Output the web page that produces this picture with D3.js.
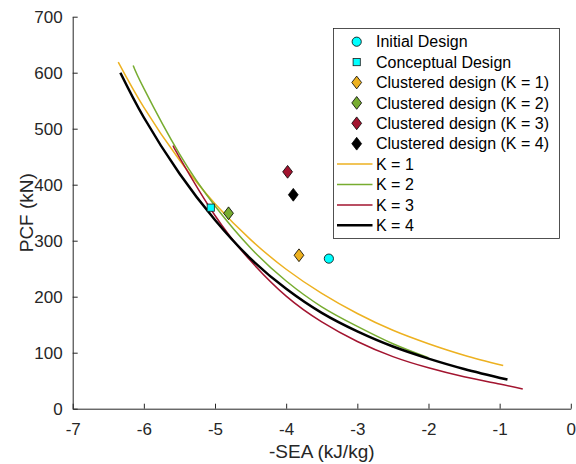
<!DOCTYPE html>
<html lang="en">
<head>
<meta charset="UTF-8">
<title>PCF vs -SEA</title>
<script src="https://d3js.org/d3.v7.min.js"></script>
<style>
    body { margin: 0; background: #fff; }
    svg { display: block; font-family: 'Liberation Sans', Arial, Helvetica, sans-serif; }
    .tick text { font-size: 17px; fill: #262626; }
    .axis path, .axis line { stroke: #262626; }
    .axis-label { font-size: 19px; fill: #262626; }
    .legend text { font-size: 16px; fill: #000; }
</style>
</head>
<body>
<svg width="576" height="464"></svg>
<script>
    // Fitted curves
    const k1X = [-6.36, -6.0, -5.5, -5.0, -4.5, -4.0, -3.5, -3.0, -2.5, -2.0, -1.5, -0.95];
    const k1Y = [619, 538, 444, 366, 302, 249, 206, 170, 140, 116, 95.5, 77];
    const k2X = [-6.15, -6.0, -5.5, -5.0, -4.5, -4.0, -3.5, -3.0, -2.5, -2.0];
    const k2Y = [613, 572, 455, 362, 287, 228, 182, 147, 116, 91];
    const k3X = [-5.58, -5.5, -5.0, -4.5, -4.0, -3.5, -3.0, -2.5, -2.0, -1.5, -1.0, -0.675];
    const k3Y = [468, 449, 345, 264, 201, 155, 120, 93, 73, 57, 44, 35];
    const k4X = [-6.33, -6.0, -5.5, -5.0, -4.5, -4.0, -3.5, -3.0, -2.5, -2.0, -1.5, -0.89];
    const k4Y = [600, 520, 420, 337, 268, 214, 171, 138, 111, 89.5, 71, 52];

    // Design points
    const initialX = -3.4, initialY = 268;
    const conceptualX = -5.06, conceptualY = 359;
    const clusterX = [-3.82, -4.81, -3.98, -3.90];
    const clusterY = [274, 349, 423, 382];

    const curveNames = ["K = 1", "K = 2", "K = 3", "K = 4"];
    const clusterNames = ["Clustered design (K = 1)", "Clustered design (K = 2)",
        "Clustered design (K = 3)", "Clustered design (K = 4)"];
    const colors = ["#EDB120", "#77AC30", "#A2142F", "#000000"];
    const widths = [1.5, 1.5, 1.5, 2.5];

    const xTicks = [-7, -6, -5, -4, -3, -2, -1, 0];
    const yTicks = [0, 100, 200, 300, 400, 500, 600, 700];

    const margin = { top: 16.7, right: 5.2, bottom: 55.3, left: 72.7 };
    const W = 576, H = 464;
    const width = W - margin.left - margin.right;
    const height = H - margin.top - margin.bottom;

    const svg = d3.select("svg");
    const g = svg.append("g").attr("transform", `translate(${margin.left},${margin.top})`);

    const x = d3.scaleLinear().domain([-7, 0]).range([0, width]);
    const y = d3.scaleLinear().domain([0, 700]).range([height, 0]);

    // Axes (MATLAB style: ticks inward, no box)
    g.append("g")
        .attr("class", "axis")
        .attr("transform", `translate(0,${height})`)
        .call(d3.axisBottom(x).tickValues(xTicks).tickSizeInner(-5).tickSizeOuter(0)
            .tickPadding(14).tickFormat(d => String(d)));

    g.append("g")
        .attr("class", "axis")
        .call(d3.axisLeft(y).tickValues(yTicks).tickSizeInner(-5).tickSizeOuter(0)
            .tickPadding(10).tickFormat(d => String(d)));

    g.selectAll(".axis").attr("font-size", null).attr("font-family", null);

    // Curves
    const series = [[k1X, k1Y], [k2X, k2Y], [k3X, k3Y], [k4X, k4Y]];
    const line = d3.line()
        .x(d => x(d[0]))
        .y(d => y(d[1]))
        .curve(d3.curveNatural);

    series.forEach(([xs, ys], i) => {
        g.append("path")
            .datum(xs.map((v, j) => [v, ys[j]]))
            .attr("fill", "none")
            .attr("stroke", colors[i])
            .attr("stroke-width", widths[i])
            .attr("d", line);
    });

    // Markers
    const diamond = (cx, cy, hw, hh) =>
        `M${cx},${cy - hh}L${cx + hw},${cy}L${cx},${cy + hh}L${cx - hw},${cy}Z`;

    function drawCircle(sel, cx, cy) {
        sel.append("circle").attr("cx", cx).attr("cy", cy).attr("r", 4.6)
            .attr("fill", "#00FFFF").attr("stroke", "#000").attr("stroke-width", 0.8);
    }
    function drawSquare(sel, cx, cy) {
        sel.append("rect").attr("x", cx - 3.6).attr("y", cy - 3.6)
            .attr("width", 7.2).attr("height", 7.2)
            .attr("fill", "#00FFFF").attr("stroke", "#1a1a1a").attr("stroke-width", 0.8);
    }
    function drawDiamond(sel, cx, cy, c) {
        sel.append("path").attr("d", diamond(cx, cy, 4.9, 6.4))
            .attr("fill", c).attr("stroke", "#000").attr("stroke-width", 0.8);
    }

    drawSquare(g, x(conceptualX), y(conceptualY));
    drawCircle(g, x(initialX), y(initialY));
    clusterX.forEach((v, i) => drawDiamond(g, x(v), y(clusterY[i]), colors[i]));

    // Axis labels
    svg.append("text")
        .attr("class", "axis-label")
        .attr("x", margin.left + width / 2)
        .attr("y", 458)
        .attr("text-anchor", "middle")
        .text("-SEA (kJ/kg)");

    svg.append("text")
        .attr("class", "axis-label")
        .attr("transform", `translate(33,${margin.top + height / 2}) rotate(-90)`)
        .attr("text-anchor", "middle")
        .text("PCF (kN)");

    // Legend
    const leg = svg.append("g").attr("class", "legend");
    leg.append("rect")
        .attr("x", 333.5).attr("y", 28.5).attr("width", 226).attr("height", 210)
        .attr("fill", "#fff").attr("stroke", "#262626").attr("stroke-width", 0.8);

    const rowY = i => 41.7 + i * 20.4;
    const textX = 376, markX = 356.7;

    drawCircle(leg, markX, rowY(0));
    leg.append("text").attr("x", textX).attr("y", rowY(0)).attr("dy", "0.35em").text("Initial Design");
    drawSquare(leg, markX, rowY(1));
    leg.append("text").attr("x", textX).attr("y", rowY(1)).attr("dy", "0.35em").text("Conceptual Design");
    clusterNames.forEach((name, i) => {
        drawDiamond(leg, markX, rowY(2 + i), colors[i]);
        leg.append("text").attr("x", textX).attr("y", rowY(2 + i)).attr("dy", "0.35em").text(name);
    });
    curveNames.forEach((name, i) => {
        leg.append("line")
            .attr("x1", 337).attr("x2", 372.5)
            .attr("y1", rowY(6 + i)).attr("y2", rowY(6 + i))
            .attr("stroke", colors[i]).attr("stroke-width", widths[i]);
        leg.append("text").attr("x", textX).attr("y", rowY(6 + i)).attr("dy", "0.35em").text(name);
    });
</script>
</body>
</html>
